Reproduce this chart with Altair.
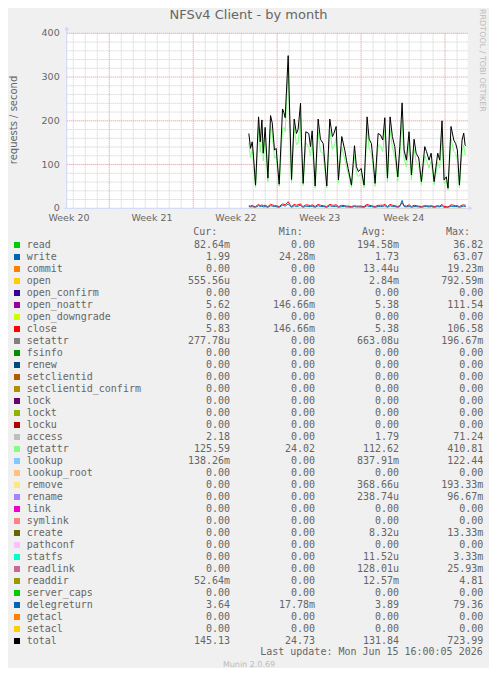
import altair as alt
import pandas as pd

# ---------------- data ----------------
days = [15.19, 15.33, 15.47, 15.55, 15.75, 16.00, 16.14, 16.28, 16.39, 16.55,
        16.78, 17.00, 17.14, 17.33, 17.47, 17.55, 17.72, 18.00, 18.11, 18.22,
        18.47, 18.61, 18.75, 18.97, 19.16, 19.30, 19.50, 19.58, 19.72, 19.94,
        20.19, 20.33, 20.47, 20.72, 20.97, 21.16, 21.39, 21.69, 21.94, 22.16,
        22.28, 22.47, 22.66, 22.94, 23.19, 23.33, 23.47, 23.75, 24.00, 24.16,
        24.33, 24.55, 24.80, 25.05, 25.22, 25.41, 25.55, 25.72, 25.97, 26.16,
        26.36, 26.53, 26.75, 26.97, 27.16, 27.36, 27.61, 27.78, 27.97, 28.14,
        28.33, 28.55, 28.75, 28.97, 29.14, 29.36, 29.58, 29.86, 30.00, 30.22,
        30.39, 30.64, 30.94, 31.11, 31.30, 31.47, 31.66, 31.80, 32.05, 32.28,
        32.44, 32.58, 32.75, 32.97, 33.11, 33.22, 33.28]

total_v = [171, 137, 152, 129, 53, 209, 152, 202, 126, 185,
           69, 212, 195, 133, 137, 110, 55, 227, 219, 207,
           349, 204, 66, 204, 171, 181, 240, 152, 57, 175,
           171, 141, 177, 51, 204, 158, 148, 51, 204, 164,
           171, 187, 65, 164, 133, 110, 91, 53, 143, 95,
           84, 91, 53, 209, 158, 148, 110, 57, 171, 168,
           156, 207, 69, 209, 164, 141, 72, 141, 241, 133,
           110, 175, 76, 158, 126, 115, 61, 141, 130, 110,
           126, 61, 126, 110, 200, 65, 72, 46, 187, 156,
           148, 133, 53, 156, 172, 145, 143]

getattr_v = [150, 115, 135, 112, 48, 185, 128, 178, 108, 160,
             60, 190, 170, 115, 118, 95, 50, 180, 185, 175,
             320, 180, 58, 185, 145, 150, 210, 130, 52, 150,
             140, 120, 150, 46, 175, 130, 125, 46, 180, 135,
             140, 160, 58, 140, 112, 95, 80, 48, 120, 82,
             72, 80, 47, 185, 135, 125, 95, 50, 145, 142,
             130, 180, 60, 180, 140, 118, 62, 120, 200, 112,
             95, 148, 65, 135, 105, 98, 54, 120, 110, 92,
             108, 54, 105, 92, 170, 57, 62, 42, 160, 130,
             125, 112, 47, 130, 145, 122, 125]

close_v = [6, 5, 7, 5, 4, 9, 6, 8, 6, 7, 4, 9, 8, 6, 6, 5, 4, 10, 9, 8,
           15, 9, 4, 9, 7, 8, 10, 7, 4, 8, 7, 6, 8, 4, 9, 7, 6, 4, 9, 7,
           7, 8, 4, 7, 6, 5, 5, 4, 6, 5, 5, 5, 4, 9, 7, 6, 5, 4, 7, 7,
           7, 9, 4, 9, 7, 6, 4, 6, 12, 6, 5, 8, 4, 7, 6, 5, 4, 6, 6, 5,
           6, 4, 6, 5, 9, 4, 4, 3, 8, 7, 6, 6, 4, 7, 8, 7, 7]

delegreturn_v = [4, 3, 4, 3, 2, 6, 4, 5, 3, 4, 2, 6, 5, 4, 4, 3, 2, 7, 6, 5,
                 10, 6, 2, 6, 4, 5, 7, 4, 2, 5, 4, 4, 5, 2, 6, 4, 4, 2, 6, 4,
                 4, 5, 2, 4, 4, 3, 3, 2, 4, 3, 3, 3, 2, 6, 4, 4, 3, 2, 4, 4,
                 4, 6, 2, 6, 4, 4, 2, 4, 18, 4, 3, 5, 2, 4, 4, 3, 2, 4, 4, 3,
                 4, 2, 4, 3, 6, 2, 2, 2, 5, 4, 4, 4, 2, 4, 5, 4, 4]

setacl_v = [0.0] * len(days)

y_ticks = [0, 100, 200, 300, 400]
week_pos = [0.19, 7.11, 14.11, 21.11, 28.11]
week_labels = ["Week 20", "Week 21", "Week 22", "Week 23", "Week 24"]

names = ["read", "write", "commit", "open", "open_confirm", "open_noattr",
         "open_downgrade", "close", "setattr", "fsinfo", "renew", "setclientid",
         "setclientid_confirm", "lock", "lockt", "locku", "access", "getattr",
         "lookup", "lookup_root", "remove", "rename", "link", "symlink", "create",
         "pathconf", "statfs", "readlink", "readdir", "server_caps", "delegreturn",
         "getacl", "setacl", "total"]
colors = ["#00CC00", "#0066B3", "#FF8000", "#FFCC00", "#330099", "#990099",
          "#CCFF00", "#FF0000", "#808080", "#008F00", "#00487D", "#B35A00",
          "#B38F00", "#6B006B", "#8FB300", "#B30000", "#BEBEBE", "#80FF80",
          "#80C9FF", "#FFC080", "#FFE680", "#AA80FF", "#EE00CC", "#FF8080", "#666600",
          "#FFBFFF", "#00FFCC", "#CC6699", "#999900", "#00CC00", "#0066B3",
          "#FF8000", "#FFCC00", "#000000"]
cur = ["82.64m", "1.99", "0.00", "555.56u", "0.00", "5.62", "0.00", "5.83", "277.78u",
       "0.00", "0.00", "0.00", "0.00", "0.00", "0.00", "0.00", "2.18", "125.59",
       "138.26m", "0.00", "0.00", "0.00", "0.00", "0.00", "0.00", "0.00", "0.00",
       "0.00", "52.64m", "0.00", "3.64", "0.00", "0.00", "145.13"]
mins = ["0.00", "24.28m", "0.00", "0.00", "0.00", "146.66m", "0.00", "146.66m", "0.00",
        "0.00", "0.00", "0.00", "0.00", "0.00", "0.00", "0.00", "0.00", "24.02",
        "0.00", "0.00", "0.00", "0.00", "0.00", "0.00", "0.00", "0.00", "0.00",
        "0.00", "0.00", "0.00", "17.78m", "0.00", "0.00", "24.73"]
avgs = ["194.58m", "1.73", "13.44u", "2.84m", "0.00", "5.38", "0.00", "5.38", "663.08u",
        "0.00", "0.00", "0.00", "0.00", "0.00", "0.00", "0.00", "1.79", "112.62",
        "837.91m", "0.00", "368.66u", "238.74u", "0.00", "0.00", "8.32u", "0.00", "11.52u",
        "128.01u", "12.57m", "0.00", "3.89", "0.00", "0.00", "131.84"]
maxs = ["36.82", "63.07", "19.23m", "792.59m", "0.00", "111.54", "0.00", "106.58", "196.67m",
        "0.00", "0.00", "0.00", "0.00", "0.00", "0.00", "0.00", "71.24", "410.81",
        "122.44", "0.00", "193.33m", "96.67m", "0.00", "0.00", "13.33m", "0.00", "3.33m",
        "25.93m", "4.81", "0.00", "79.36", "0.00", "0.00", "723.99"]

title_text = "NFSv4 Client - by month"
ylabel_text = "requests / second"
update_text = "Last update: Mon Jun 15 16:00:05 2026"
munin_text = "Munin 2.0.69"
rrd_text = "RRDTOOL / TOBI OETIKER"

# ---------------- layout ----------------
W, H = 401, 175
FONT = "DejaVu Sans"
MONO = "DejaVu Sans Mono"
FG = "#666666"
AXIS_C = "#CFD6F8"

xs = alt.Scale(domain=[0, 33.44], nice=False, zero=False)
ys = alt.Scale(domain=[0, 400], nice=False)


def one(text):
    return pd.DataFrame({"t": [text]})


# grid
minor_v = [0.55 + k for k in range(33) if (k - 3) % 7 != 0]
major_v = [0.55 + k for k in range(33) if (k - 3) % 7 == 0]
minor_h = [v for v in range(20, 400, 20) if v % 100]
major_h = [100, 200, 300, 400]

g_minor_v = alt.Chart(pd.DataFrame({"g": minor_v})).mark_rule(
    color="#cccccc", strokeWidth=1, strokeDash=[1, 1]).encode(
    x=alt.X("g:Q", scale=xs, axis=None))
g_minor_h = alt.Chart(pd.DataFrame({"g": minor_h})).mark_rule(
    color="#cccccc", strokeWidth=1, strokeDash=[1, 1]).encode(
    y=alt.Y("g:Q", scale=ys, axis=None))
g_major_v = alt.Chart(pd.DataFrame({"g": major_v})).mark_rule(
    color="#f08a8a", strokeWidth=1, strokeDash=[1, 1]).encode(
    x=alt.X("g:Q", scale=xs, axis=None))
g_major_h = alt.Chart(pd.DataFrame({"g": major_h})).mark_rule(
    color="#f08a8a", strokeWidth=1, strokeDash=[1, 1]).encode(
    y=alt.Y("g:Q", scale=ys, axis=None))

# series lines (drawn in Munin order, total on top)
series = [("setacl", setacl_v), ("close", close_v), ("delegreturn", delegreturn_v),
          ("getattr", getattr_v), ("total", total_v)]
line_layers = []
for nm, vals in series:
    df = pd.DataFrame({"t": days, "v": vals})
    line_layers.append(
        alt.Chart(df).mark_line(strokeWidth=1, color=colors[names.index(nm)]).encode(
            x=alt.X("t:Q", scale=xs, axis=None), y=alt.Y("v:Q", scale=ys, axis=None)))

ytick_t = alt.Chart(pd.DataFrame({"v": y_ticks})).mark_text(
    font=FONT, fontSize=9.5, color=FG, align="right", baseline="middle").encode(
    x=alt.value(-7), y=alt.Y("v:Q", scale=ys, axis=None), text="v:Q")

# axes (munin style light-blue lines with arrows)
y_axis_line = alt.Chart(one("")).mark_rule(color=AXIS_C, strokeWidth=1).encode(
    x=alt.value(0), y=alt.value(H), y2=alt.value(-4))
x_axis_line = alt.Chart(one("")).mark_rule(color=AXIS_C, strokeWidth=1).encode(
    x=alt.value(-3), x2=alt.value(403), y=alt.value(H))
y_arrow = alt.Chart(one("")).mark_point(shape="triangle-up", filled=True, size=22,
                                         color=AXIS_C, opacity=1).encode(
    x=alt.value(0), y=alt.value(-5))
x_arrow = alt.Chart(one("")).mark_point(shape="triangle-right", filled=True, size=22,
                                         color=AXIS_C, opacity=1).encode(
    x=alt.value(404), y=alt.value(H))

week_t = alt.Chart(pd.DataFrame({"p": week_pos, "l": week_labels})).mark_text(
    font=FONT, fontSize=9.5, color=FG, baseline="middle", align="center").encode(
    x=alt.X("p:Q", scale=xs, axis=None), y=alt.value(184.7), text="l:N")

title_t = alt.Chart(one(title_text)).mark_text(
    font=FONT, fontSize=13, color=FG, align="center", baseline="middle").encode(
    x=alt.value(181.8), y=alt.value(-18.5), text="t:N")
ylabel_t = alt.Chart(one(ylabel_text)).mark_text(
    font=FONT, fontSize=10, color=FG, align="center", baseline="middle", angle=270).encode(
    x=alt.value(-52.5), y=alt.value(86.7), text="t:N")
rrd_t = alt.Chart(one(rrd_text)).mark_text(
    font=FONT, fontSize=8, color="#bbbbbb", align="left", baseline="middle", angle=90).encode(
    x=alt.value(415.3), y=alt.value(-24.3), text="t:N")
update_t = alt.Chart(one(update_text)).mark_text(
    font=MONO, fontSize=10, color=FG, align="right", baseline="middle").encode(
    x=alt.value(416), y=alt.value(618.7), text="t:N")
munin_t = alt.Chart(one(munin_text)).mark_text(
    font=FONT, fontSize=8, color="#bbbbbb", align="center", baseline="middle").encode(
    x=alt.value(182.3), y=alt.value(631.7), text="t:N")

headers = [("Cur:", 150.6), ("Min:", 236.0), ("Avg:", 319.3), ("Max:", 403.3)]
header_layers = [
    alt.Chart(one(h)).mark_text(font=MONO, fontSize=10, color=FG, align="right",
                                baseline="middle").encode(
        x=alt.value(px), y=alt.value(198.7), text="t:N")
    for h, px in headers]

plot = alt.layer(g_minor_v, g_minor_h, g_major_v, g_major_h, *line_layers, ytick_t,
                 y_axis_line, x_axis_line, y_arrow, x_arrow, week_t, title_t,
                 ylabel_t, rrd_t, update_t, munin_t, *header_layers)

# legend table
def pad(s):
    return s if s[-1].isalpha() else s + "\u00a0"


leg = pd.DataFrame({"row": list(range(len(names))), "name": names,
                    "cur": [pad(s) for s in cur], "min": [pad(s) for s in mins],
                    "avg": [pad(s) for s in avgs], "max": [pad(s) for s in maxs]})
ly = alt.Y("row:Q", scale=alt.Scale(domain=[0, 33], range=[211.7, 607.7]), axis=None)
base = alt.Chart(leg)
squares = base.mark_square(size=36, opacity=1, filled=True).encode(
    x=alt.value(-49.7), y=ly,
    color=alt.Color("name:N", scale=alt.Scale(domain=names, range=colors), legend=None))
name_t = base.mark_text(font=MONO, fontSize=10, color=FG, align="left",
                        baseline="middle").encode(x=alt.value(-40), y=ly, text="name:N")
col_layers = [base.mark_text(font=MONO, fontSize=10, color=FG, align="right",
                             baseline="middle").encode(x=alt.value(px), y=ly, text=f"{c}:N")
              for c, px in [("cur", 163.3), ("min", 248.3), ("avg", 332.3), ("max", 416.6)]]
legend = alt.layer(squares, name_t, *col_layers)

chart = alt.layer(plot, legend).resolve_scale(y="independent").properties(
    width=W, height=H,
    autosize=alt.AutoSizeParams(type="none"),
    padding={"left": 58.7, "top": 25.3, "right": 21, "bottom": 459.7},
).configure(background="#F0F0F0").configure_view(fill="white", strokeWidth=0)

chart.save("out.html", embed_options={"renderer": "svg", "actions": False})
